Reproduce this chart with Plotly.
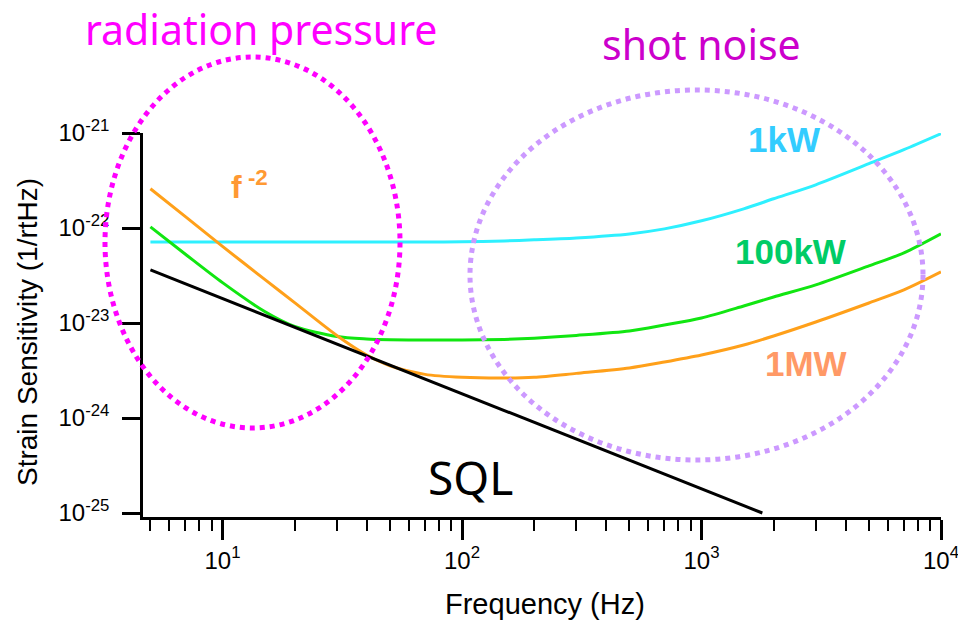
import plotly.graph_objects as go

# ---------------- data ----------------
freq = [5, 7, 10, 15, 20, 30, 40, 50, 70, 100, 150, 200, 300, 500, 700,
        1000, 1500, 2000, 3000, 5000, 7000, 10000]

h_1kW = [7.14e-23, 7.14e-23, 7.14e-23, 7.14e-23, 7.14e-23, 7.14e-23, 7.14e-23,
         7.14e-23, 7.14e-23, 7.16e-23, 7.30e-23, 7.50e-23, 7.87e-23, 8.67e-23,
         9.79e-23, 1.19e-22, 1.59e-22, 2.03e-22, 2.85e-22, 4.75e-22, 6.67e-22,
         9.83e-22]

h_100kW = [1.028e-22, 5.30e-23, 2.66e-23, 1.32e-23, 9.20e-24, 7.20e-24, 6.80e-24,
           6.68e-24, 6.62e-24, 6.62e-24, 6.72e-24, 6.92e-24, 7.40e-24, 8.23e-24,
           9.52e-24, 1.129e-23, 1.511e-23, 1.879e-23, 2.52e-23, 3.99e-23,
           5.47e-23, 8.67e-23]

h_1MW = [2.59e-22, 1.32e-22, 6.40e-23, 2.88e-23, 1.64e-23, 7.40e-24, 4.60e-24,
         3.55e-24, 2.88e-24, 2.68e-24, 2.63e-24, 2.68e-24, 2.95e-24, 3.36e-24,
         3.88e-24, 4.60e-24, 5.86e-24, 7.30e-24, 1.025e-23, 1.625e-23, 2.23e-23,
         3.45e-23]

sql_freq = [5, 1795]
h_sql = [3.62e-23, 1.0e-25]

x_major = [10, 100, 1000, 10000]
x_major_text = ["10<sup>1</sup>", "10<sup>2</sup>", "10<sup>3</sup>", "10<sup>4</sup>"]
x_minor = [5, 6, 7, 8, 9, 20, 30, 40, 50, 60, 70, 80, 90,
           200, 300, 400, 500, 600, 700, 800, 900,
           2000, 3000, 4000, 5000, 6000, 7000, 8000, 9000]
y_major = [1e-25, 1e-24, 1e-23, 1e-22, 1e-21]
y_major_text = ["10<sup>-25</sup>", "10<sup>-24</sup>", "10<sup>-23</sup>",
                "10<sup>-22</sup>", "10<sup>-21</sup>"]

# ---------------- layout geometry ----------------
W_TOT, H_TOT = 958, 630
L, R, T, B = 143, 17, 133, 113
PW, PH = W_TOT - L - R, H_TOT - T - B


def px(x):
    return (x - L) / PW


def py(y):
    return (H_TOT - B - y) / PH


fig = go.Figure()

smooth = dict(width=3, shape="spline", smoothing=0.8)
fig.add_trace(go.Scatter(x=freq, y=h_1kW, mode="lines",
                         line=dict(color="#2ef0ff", **smooth), showlegend=False))
fig.add_trace(go.Scatter(x=freq, y=h_100kW, mode="lines",
                         line=dict(color="#11e611", **smooth), showlegend=False))
fig.add_trace(go.Scatter(x=freq, y=h_1MW, mode="lines",
                         line=dict(color="#ffa01a", **smooth), showlegend=False))
fig.add_trace(go.Scatter(x=sql_freq, y=h_sql, mode="lines",
                         line=dict(color="black", width=3), showlegend=False))

tickfont = dict(family="Liberation Sans, Arial, sans-serif", size=24, color="black")

fig.update_xaxes(type="log", range=[0.668, 4.0], automargin=False,
                 showline=True, linecolor="black", linewidth=2.5, mirror=False,
                 showgrid=False, zeroline=False, ticklabeloverflow="allow",
                 ticks="outside", ticklen=20, tickwidth=2.5, tickcolor="black",
                 tickvals=x_major, ticktext=x_major_text, tickfont=tickfont,
                 minor=dict(ticks="outside", ticklen=11, tickwidth=2, tickcolor="black",
                            tickvals=x_minor, showgrid=False))
fig.update_yaxes(type="log", range=[-25.042, -21.0], automargin=False,
                 showline=True, linecolor="black", linewidth=2.5, mirror=False,
                 showgrid=False, zeroline=False, ticklabeloverflow="allow",
                 ticks="outside", ticklen=18, tickwidth=2.5, tickcolor="black",
                 tickvals=y_major, ticktext=y_major_text, tickfont=tickfont,
                 ticklabelstandoff=8)

# dotted ellipses
fig.add_shape(type="circle", xref="paper", yref="paper",
              x0=px(105), x1=px(400), y0=py(428), y1=py(57),
              line=dict(color="#ff00ff", width=5, dash="5px,5px"), layer="above")
fig.add_shape(type="circle", xref="paper", yref="paper",
              x0=px(470), x1=px(923), y0=py(460), y1=py(90),
              line=dict(color="#cc99ff", width=5, dash="5px,5px"), layer="above")

hand = "Noto Sans, sans-serif"
bold = "Liberation Sans, Arial, sans-serif"


def note(text, x, y, color, size, family, weight="normal", angle=0):
    fig.add_annotation(text=text, xref="paper", yref="paper", x=px(x), y=py(y),
                       xanchor="center", yanchor="middle", showarrow=False,
                       textangle=angle, borderpad=0,
                       font=dict(color=color, size=size, family=family, weight=weight))


# axis titles
note("Frequency (Hz)", 545, 604, "black", 29, bold)
note("Strain Sensitivity (1/rtHz)", 27, 332, "black", 28, bold, angle=-90)

note("radiation pressure", 261, 29, "#ff00ff", 41, hand)
note("shot noise", 701, 44, "#cc00cc", 41, hand)
note("SQL", 470, 477, "black", 46, hand)
note("f<sup> -2</sup>", 249, 185, "#ff9933", 32, bold, "bold")
note("1kW", 784, 139, "#33ccff", 35, bold, "bold")
note("100kW", 790, 251, "#00cc66", 35, bold, "bold")
note("1MW", 806, 363, "#ff9966", 35, bold, "bold")

fig.update_layout(width=W_TOT, height=H_TOT,
                  margin=dict(l=L, r=R, t=T, b=B, pad=0),
                  plot_bgcolor="white", paper_bgcolor="white")

fig.write_html("out.html")
